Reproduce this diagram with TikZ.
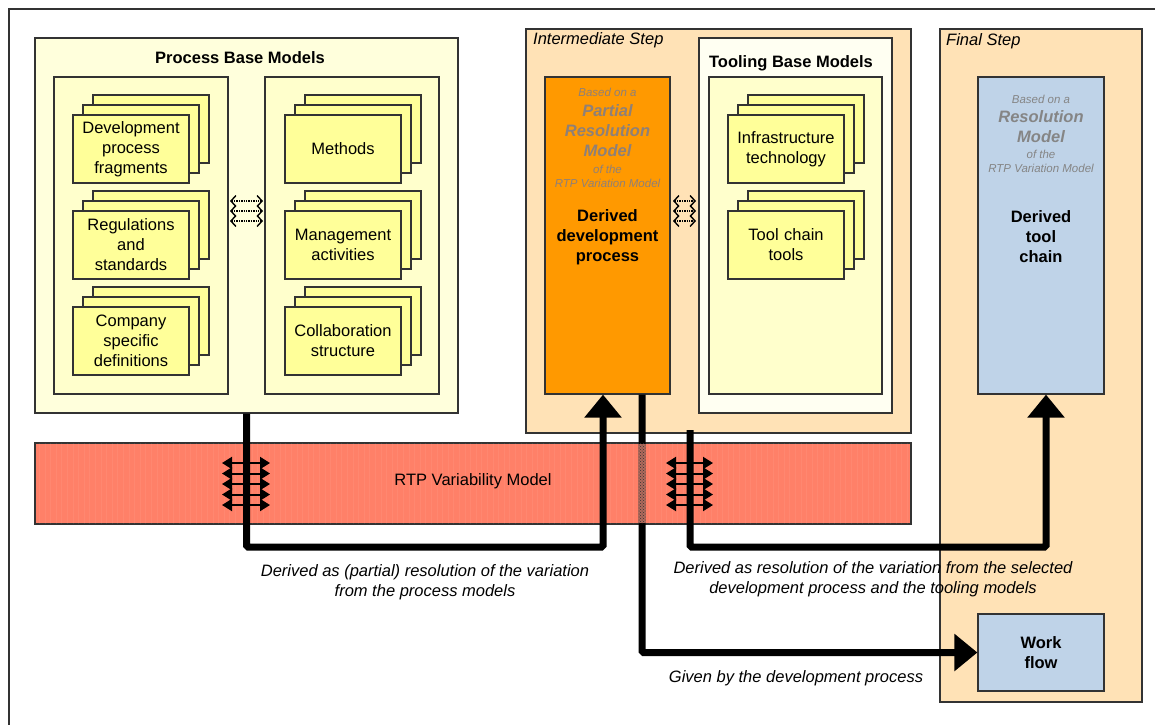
\documentclass[tikz,border=0pt]{standalone}
\usepackage{fontspec}
\setmainfont{Liberation Sans}
\usetikzlibrary{arrows.meta,patterns}

\definecolor{frameline}{HTML}{333333}
\definecolor{cream}{HTML}{FFFFDC}
\definecolor{paleyellow}{HTML}{FFFFCC}
\definecolor{cardyellow}{HTML}{FFFF99}
\definecolor{peach}{HTML}{FFE2B6}
\definecolor{procorange}{HTML}{FF9900}
\definecolor{toolblue}{HTML}{BFD3E8}
\definecolor{bandred}{HTML}{FF8068}
\definecolor{ivory}{HTML}{FFFFF2}
\definecolor{hintgray}{HTML}{858585}
\definecolor{hintbrown}{HTML}{8E8078}
\definecolor{hiddenline}{HTML}{B06A5C}

\newcommand\mainsize{\fontsize{16.5}{20}\selectfont}
\newcommand\smallsize{\fontsize{11.5}{14}\selectfont}

% a card with two copies stacked behind it
\newcommand\cardstack[4]{%
  \draw[cardback] (#2-38,#3-54) rectangle ++(116,68);
  \draw[cardback] (#2-48,#3-44) rectangle ++(116,68);
  \node[card] (#1) at (#2,#3) {#4};
}

\begin{document}
\begin{tikzpicture}[x=1pt,y=-1pt,
  box/.style={draw=frameline, line width=1.2pt, inner sep=0pt},
  cardback/.style={draw=frameline, line width=1.2pt, fill=cardyellow},
  card/.style={box, fill=cardyellow, minimum width=116pt, minimum height=68pt,
    text width=112pt, align=center, font=\mainsize},
  txt/.style={inner sep=0pt},
  maintxt/.style={txt, font=\mainsize, text height=11.8pt, text depth=3.5pt},
  flow/.style={line width=7pt, rounded corners=1.5pt},
  bigtip/.style={-{Triangle[width=36pt,length=23pt]}},
  bandarrow/.style={line width=2pt,
    {Triangle[width=12pt,length=10pt]}-{Triangle[width=12pt,length=10pt]}},
  dotlink/.style={line width=1.4pt, densely dotted,
    {Straight Barb[length=5pt,width=11pt]}-{Straight Barb[length=5pt,width=11pt]}},
  lbl/.style={txt, font=\itshape\mainsize, align=center}
]
\useasboundingbox (0,0) rectangle (1155,724);

% outer frame
\draw[frameline, line width=1.3pt] (9,730) -- (9,9) -- (1160,9);

% ---------------- process base models ----------------
\node[box, fill=cream, minimum width=423pt, minimum height=375pt] (pbm) at (246.5,225.5) {};
\node[txt, font=\bfseries\mainsize] (pbmtitle) at (240,58) {Process Base Models};
\node[box, fill=paleyellow, minimum width=174pt, minimum height=317pt] (pbmL) at (141,235.5) {};
\node[box, fill=paleyellow, minimum width=174pt, minimum height=317pt] (pbmR) at (352,235.5) {};

\cardstack{devfrag}{131}{149}{Development\\process\\fragments}
\cardstack{regs}{131}{245}{Regulations\\and\\standards}
\cardstack{company}{131}{341}{Company\\specific\\definitions}
\cardstack{methods}{343}{149}{Methods}
\cardstack{mgmt}{343}{245}{Management\\activities}
\cardstack{collab}{343}{341}{Collaboration\\structure}

% ---------------- intermediate step ----------------
\node[box, fill=peach, minimum width=385pt, minimum height=404pt] (inter) at (718.5,231) {};
\node[maintxt, font=\itshape\mainsize, anchor=west] (intertitle) at (533,40) {Intermediate Step};
\node[box, fill=procorange, minimum width=125pt, minimum height=317pt] (orange) at (607.5,235.5) {};
\node[txt, text=hintbrown, font=\itshape\smallsize] (o1) at (607.5,92) {Based on a};
\node[txt, text=hintbrown, font=\bfseries\itshape\mainsize] (o2) at (607.5,111) {Partial};
\node[txt, text=hintbrown, font=\bfseries\itshape\mainsize] (o3) at (607.5,131) {Resolution};
\node[txt, text=hintbrown, font=\bfseries\itshape\mainsize] (o4) at (607.5,151) {Model};
\node[txt, text=hintbrown, font=\itshape\smallsize] (o5) at (607.5,169) {of the};
\node[txt, text=hintbrown, font=\itshape\smallsize] (o6) at (607.5,183) {RTP Variation Model};
\node[txt, font=\bfseries\mainsize, align=center] (derivedproc) at (607.5,237) {Derived\\development\\process};

\node[box, fill=ivory, minimum width=193pt, minimum height=375pt] (tbm) at (795.5,225.5) {};
\node[txt, font=\bfseries\mainsize] (tbmtitle) at (791,63) {Tooling Base Models};
\node[box, fill=paleyellow, minimum width=173pt, minimum height=317pt] (tbmIn) at (795.5,235.5) {};
\cardstack{infra}{786}{149}{Infrastructure\\technology}
\cardstack{tools}{786}{245}{Tool chain\\tools}

% ---------------- final step ----------------
\node[box, fill=peach, minimum width=202pt, minimum height=673pt] (final) at (1041,365.5) {};
\node[maintxt, font=\itshape\mainsize, anchor=west] (finaltitle) at (946,41) {Final Step};
\node[box, fill=toolblue, minimum width=126pt, minimum height=317pt] (blue) at (1041,235.5) {};
\node[txt, text=hintgray, font=\itshape\smallsize] (b1) at (1041,99) {Based on a};
\node[txt, text=hintgray, font=\bfseries\itshape\mainsize] (b2) at (1041,117) {Resolution};
\node[txt, text=hintgray, font=\bfseries\itshape\mainsize] (b3) at (1041,137) {Model};
\node[txt, text=hintgray, font=\itshape\smallsize] (b4) at (1041,154) {of the};
\node[txt, text=hintgray, font=\itshape\smallsize] (b5) at (1041,168) {RTP Variation Model};
\node[txt, font=\bfseries\mainsize, align=center] (derivedtool) at (1041,237) {Derived\\tool\\chain};
\node[box, fill=toolblue, minimum width=126pt, minimum height=77pt,
  font=\bfseries\mainsize, align=center] (work) at (1041,652.5) {Work\\flow};

% ---------------- variability band ----------------
\node[box, fill=bandred, minimum width=876pt, minimum height=81pt] (band) at (473,483.5) {};
\begin{scope}
  \clip (35.6,443.6) rectangle (910.4,523.4);
  \draw[white, opacity=0.06, line width=0.6pt, xstep=5.6, ystep=5.6] (35,443) grid (911,524);
\end{scope}
\node[txt, font=\mainsize] (bandlbl) at (473,481) {RTP Variability Model};

% ---------------- derivation flows ----------------
\coordinate (busY) at (0,547);
\coordinate (upA) at ([xshift=-4.5pt]orange.south);
\coordinate (downB) at ([xshift=34.5pt]orange.south);
\coordinate (startC) at (690,430);
\coordinate (upC) at ([xshift=5pt]blue.south);

\draw[flow, bigtip] (pbm.south) -- (pbm.south |- busY) -- (upA |- busY) -- (upA);
\draw[flow, bigtip] (downB) -- (downB |- work.west) -- (work.west);
\draw[flow, bigtip] (startC) -- (startC |- busY) -- (upC |- busY) -- (upC);

% the process flow passes behind the band
\fill[hiddenline] (638.3,443.6) rectangle (645.7,523.4);
\fill[pattern=crosshatch dots, pattern color=black!80] (638.3,443.6) rectangle (645.7,523.4);

% links between the variability model and the flows
\foreach \yy in {463,473.5,484,494.5,505} {
  \draw[bandarrow] (222,\yy) -- (270,\yy);
  \draw[bandarrow] (666,\yy) -- (713,\yy);
}

% links between base model groups
\foreach \yy in {201,211,221} {
  \draw[dotlink] (230,\yy) -- (263,\yy);
  \draw[dotlink] (673,\yy) -- (696,\yy);
}

% ---------------- flow labels ----------------
\node[lbl] (lblA) at (425,582.5) {Derived as (partial) resolution of the variation\\from the process models};
\node[lbl] (lblB) at (873,579) {Derived as resolution of the variation from the selected\\development process and the tooling models};
\node[lbl] (lblC) at (796,678) {Given by the development process};
\end{tikzpicture}
\end{document}
